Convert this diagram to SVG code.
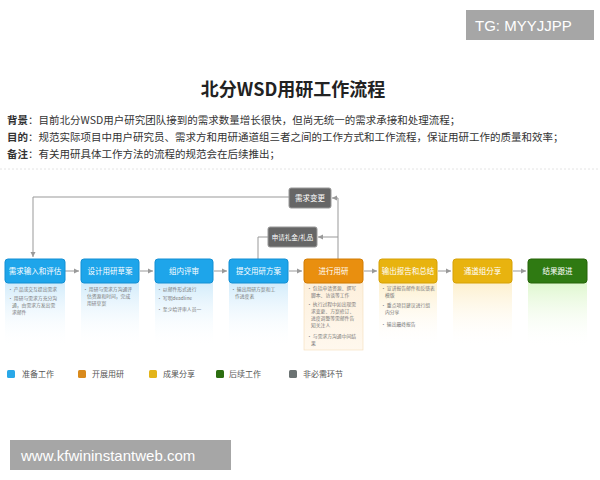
<svg xmlns="http://www.w3.org/2000/svg" width="600" height="480" viewBox="0 0 600 480">
<defs>
<style>
text{font-family:"Noto Sans CJK SC","Noto Sans",sans-serif}
.t{font-size:7.5px;fill:#fff;text-anchor:middle}
.b{font-size:4.8px;fill:#777}
.lg{font-size:8px;fill:#555}
.ln{font-size:10.5px;fill:#333}
.c{fill:none;stroke:#999;stroke-width:1}
</style>
<marker id="ah" markerWidth="6" markerHeight="6" refX="5" refY="3" orient="auto" markerUnits="userSpaceOnUse">
<path d="M0,0.5 L5,3 L0,5.5 Z" fill="#999"/>
</marker>
<linearGradient id="gb" x1="0" y1="0" x2="0" y2="1"><stop offset="0" stop-color="#d3ecfb"/><stop offset="1" stop-color="#fff" stop-opacity="0"/></linearGradient>
<linearGradient id="go" x1="0" y1="0" x2="0" y2="1"><stop offset="0" stop-color="#fdf0dc"/><stop offset="1" stop-color="#fff8ee"/></linearGradient>
<linearGradient id="gy" x1="0" y1="0" x2="0" y2="1"><stop offset="0" stop-color="#fdf0cf"/><stop offset="1" stop-color="#fff" stop-opacity="0"/></linearGradient>
<linearGradient id="gg" x1="0" y1="0" x2="0" y2="1"><stop offset="0" stop-color="#dff7cf"/><stop offset="1" stop-color="#fff" stop-opacity="0"/></linearGradient>
</defs>
<rect width="600" height="480" fill="#fff"/>

<rect x="466" y="10" width="128" height="30" fill="#a6a6a6"/>
<text x="475" y="31" style="font-family:'Liberation Sans',sans-serif;font-size:15px;fill:#fff">TG: MYYJJPP</text>

<text x="293" y="96" style="font-size:18px;font-weight:bold;fill:#222;text-anchor:middle">北分WSD用研工作流程</text>
<text x="7" y="124" class="ln"><tspan font-weight="bold">背景</tspan>：目前北分WSD用户研究团队接到的需求数量增长很快，但尚无统一的需求承接和处理流程；</text>
<text x="7" y="141" class="ln"><tspan font-weight="bold">目的</tspan>：规范实际项目中用户研究员、需求方和用研通道组三者之间的工作方式和工作流程，保证用研工作的质量和效率；</text>
<text x="7" y="158" class="ln"><tspan font-weight="bold">备注</tspan>：有关用研具体工作方法的流程的规范会在后续推出；</text>
<line x1="0" y1="169" x2="600" y2="169" stroke="#e4e4e4" stroke-dasharray="2,2"/>

<!-- panels -->
<rect x="5" y="283" width="60" height="65" fill="url(#gb)"/>
<rect x="81" y="283" width="58" height="65" fill="url(#gb)"/>
<rect x="155" y="283" width="58" height="65" fill="url(#gb)"/>
<rect x="229" y="283" width="59" height="65" fill="url(#gb)"/>
<rect x="304" y="283" width="59" height="67" fill="url(#go)" stroke="#f3dcb8" stroke-width="0.6"/>
<rect x="379" y="283" width="58" height="65" fill="url(#gy)"/>
<rect x="453" y="283" width="59" height="65" fill="url(#gy)"/>
<rect x="528" y="283" width="59" height="65" fill="url(#gg)"/>

<g id="connectors">
<line class="c" x1="65" y1="271" x2="79" y2="271" marker-end="url(#ah)"/>
<line class="c" x1="140" y1="271" x2="153" y2="271" marker-end="url(#ah)"/>
<line class="c" x1="214" y1="271" x2="227" y2="271" marker-end="url(#ah)"/>
<line class="c" x1="289" y1="271" x2="302" y2="271" marker-end="url(#ah)"/>
<line class="c" x1="364" y1="271" x2="377" y2="271" marker-end="url(#ah)"/>
<line class="c" x1="438" y1="271" x2="451" y2="271" marker-end="url(#ah)"/>
<line class="c" x1="513" y1="271" x2="526" y2="271" marker-end="url(#ah)"/>
<polyline class="c" points="338,259 338,198 332,198" marker-end="url(#ah)"/>
<polyline class="c" points="338,237 318,237" marker-end="url(#ah)"/>
<polyline class="c" points="289,197 33,197 33,257" marker-end="url(#ah)"/>
<polyline class="c" points="268,237 258,237 258,259"/>
</g>

<g id="n1"><rect x="5" y="259" width="60" height="24" rx="3" fill="#1ea5ea" stroke="#138fd4"/><text class="t" x="35" y="274">需求输入和评估</text>
<text class="b" x="8" y="291">• 产品或交互提出需求</text>
<text class="b" x="8" y="300">• 用研与需求方充分沟</text>
<text class="b" x="12" y="307">通，由需求方发出需</text>
<text class="b" x="12" y="314">求邮件</text></g>
<g id="n2"><rect x="81" y="259" width="58" height="24" rx="3" fill="#1ea5ea" stroke="#138fd4"/><text class="t" x="110" y="274">设计用研草案</text>
<text class="b" x="83" y="291">• 用研与需求方沟通评</text>
<text class="b" x="87" y="298">估资源和时间，完成</text>
<text class="b" x="87" y="305">用研草案</text></g>
<g id="n3"><rect x="155" y="259" width="58" height="24" rx="3" fill="#1ea5ea" stroke="#138fd4"/><text class="t" x="184" y="274">组内评审</text>
<text class="b" x="157" y="291">• 以邮件形式进行</text>
<text class="b" x="157" y="300">• 写明deadline</text>
<text class="b" x="157" y="311">• 至少给评审人员一</text></g>
<g id="n4"><rect x="229" y="259" width="59" height="24" rx="3" fill="#1ea5ea" stroke="#138fd4"/><text class="t" x="258.5" y="274">提交用研方案</text>
<text class="b" x="231" y="291">• 输出用研方案和工</text>
<text class="b" x="235" y="298">作进度表</text></g>
<g id="n5"><rect x="304" y="259" width="59" height="24" rx="3" fill="#e98f0f" stroke="#d27c05"/><text class="t" x="333.5" y="274">进行用研</text>
<text class="b" x="307" y="290">• 包括申请资源、撰写</text>
<text class="b" x="311" y="297">脚本、访谈等工作</text>
<text class="b" x="307" y="306">• 执行过程中如出现需</text>
<text class="b" x="311" y="313">求变更、方案修订、</text>
<text class="b" x="311" y="320">进度调整等需邮件告</text>
<text class="b" x="311" y="327">知关注人</text>
<text class="b" x="307" y="338">• 与需求方沟通中间结</text>
<text class="b" x="311" y="345">果</text></g>
<g id="n6"><rect x="379" y="259" width="58" height="24" rx="3" fill="#e8b30f" stroke="#d6a106"/><text class="t" x="408" y="274">输出报告和总结</text>
<text class="b" x="381" y="290">• 宣讲报告邮件和反馈表</text>
<text class="b" x="385" y="297">模版</text>
<text class="b" x="381" y="307">• 重点项目建议进行组</text>
<text class="b" x="385" y="314">内分享</text>
<text class="b" x="381" y="326">• 输出最终报告</text></g>
<g id="n7"><rect x="453" y="259" width="59" height="24" rx="3" fill="#e8b30f" stroke="#d6a106"/><text class="t" x="482.5" y="274">通道组分享</text></g>
<g id="n8"><rect x="528" y="259" width="59" height="24" rx="3" fill="#2f7a12" stroke="#266509"/><text class="t" x="557.5" y="274">结果跟进</text></g>
<g id="g1"><rect x="289" y="188" width="42" height="20" rx="2" fill="#666" stroke="#999"/><text class="t" x="310" y="201">需求变更</text></g>
<g id="g2"><rect x="268" y="227" width="49" height="20" rx="2" fill="#666" stroke="#999"/><text class="t" x="292.5" y="240" style="font-size:6.5px">申请礼金/礼品</text></g>

<g id="legend">
<rect x="7" y="370" width="8" height="8" rx="1.5" fill="#29a8e8"/><text class="lg" x="22" y="377">准备工作</text>
<rect x="78" y="370" width="8" height="8" rx="1.5" fill="#d98a1c"/><text class="lg" x="92" y="377">开展用研</text>
<rect x="149" y="370" width="8" height="8" rx="1.5" fill="#e3b419"/><text class="lg" x="163" y="377">成果分享</text>
<rect x="216" y="370" width="8" height="8" rx="1.5" fill="#2c6e10"/><text class="lg" x="229" y="377">后续工作</text>
<rect x="289" y="370" width="8" height="8" rx="1.5" fill="#6b7272"/><text class="lg" x="303" y="377">非必需环节</text>
</g>

<rect x="10" y="440" width="221" height="30" fill="#a6a6a6"/>
<text x="21" y="461" style="font-family:'Liberation Sans',sans-serif;font-size:15px;fill:#fff">www.kfwininstantweb.com</text>
</svg>
